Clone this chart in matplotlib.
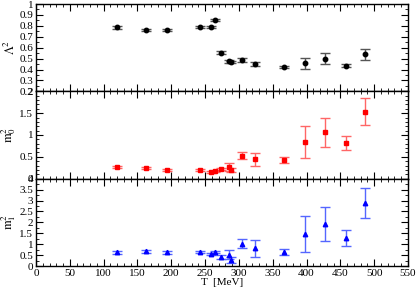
import matplotlib
matplotlib.use("Agg")
import matplotlib.pyplot as plt
from matplotlib.ticker import MultipleLocator

# temperatures (MeV)
T = [120, 162, 194, 243, 259, 265, 274, 285, 289, 305, 324, 366, 397, 428, 458, 487]

# Lambda^2
lam2 = [0.785, 0.765, 0.76, 0.79, 0.79, 0.855, 0.555, 0.475, 0.468, 0.488, 0.448, 0.425,
        0.455, 0.50, 0.435, 0.54]
lam2_err = [0.01, 0.01, 0.01, 0.01, 0.01, 0.012, 0.01, 0.012, 0.01, 0.015, 0.02, 0.01,
            0.05, 0.05, 0.015, 0.05]

# m0^2
m0 = [0.27, 0.24, 0.20, 0.195, 0.155, 0.165, 0.22, 0.27, 0.195, 0.53, 0.44, 0.42,
      0.84, 1.06, 0.82, 1.53]
m0_err = [0.03, 0.02, 0.02, 0.02, 0.015, 0.015, 0.03, 0.1, 0.05, 0.09, 0.145, 0.07,
          0.37, 0.33, 0.165, 0.31]

# m1^2
m1 = [0.62, 0.67, 0.62, 0.63, 0.55, 0.65, 0.42, 0.52, 0.28, 1.03, 0.81, 0.63,
      1.45, 1.91, 1.27, 2.9]
m1_err = [0.08, 0.07, 0.05, 0.05, 0.05, 0.05, 0.1, 0.2, 0.12, 0.2, 0.4, 0.14,
          0.82, 0.77, 0.37, 0.68]

plt.rcParams['font.family'] = ['Liberation Serif', 'DejaVu Serif']
plt.rcParams['mathtext.fontset'] = 'stix'

fig = plt.figure(figsize=(4.16, 2.89), dpi=100)
left, right = 36 / 416, 408 / 416
bottom, top = 1 - 266 / 289, 1 - 4 / 289
h = (top - bottom) / 3

ax1 = fig.add_axes([left, bottom + 2 * h, right - left, h])
ax2 = fig.add_axes([left, bottom + h, right - left, h])
ax3 = fig.add_axes([left, bottom, right - left, h])

panels = [
    (ax1, lam2, lam2_err, 'o', 'black', '#555555', (0.2, 1.0), 0.1, 0.05, r'$\Lambda^2$'),
    (ax2, m0, m0_err, 's', 'red', '#ff6666', (0, 2), 0.5, 0.1, r'$\mathrm{m}_0^2$'),
    (ax3, m1, m1_err, '^', 'blue', '#5566ff', (0, 4), 0.5, 0.25, r'$\mathrm{m}_1^2$'),
]

for ax, y, yerr, mk, c, ec, ylim, maj, mnr, lab in panels:
    ax.errorbar(T, y, yerr=yerr, fmt=mk, color=c, ecolor=ec, ms=3.2,
                elinewidth=1, capsize=3.5, capthick=1)
    ax.set_xlim(0, 550)
    ax.set_ylim(*ylim)
    ax.xaxis.set_major_locator(MultipleLocator(50))
    ax.xaxis.set_minor_locator(MultipleLocator(10))
    ax.yaxis.set_major_locator(MultipleLocator(maj))
    ax.yaxis.set_minor_locator(MultipleLocator(mnr))
    ax.tick_params(which='both', direction='in', top=True, right=True, labelsize=8, pad=2)
    ax.tick_params(which='major', length=5)
    ax.tick_params(which='minor', length=2.5)
    ax.set_ylabel(lab, fontsize=9, labelpad=1)
    ax.yaxis.set_label_coords(-0.048, 0.5)
    for s in ax.spines.values():
        s.set_linewidth(1)
    ax.yaxis.set_major_formatter(matplotlib.ticker.FuncFormatter(lambda v, p: f'{v:g}'))

ax1.tick_params(labelbottom=False)
ax2.tick_params(labelbottom=False)
ax3.set_xlabel('T  [MeV]', fontsize=8, labelpad=0)

fig.savefig('out.png', dpi=100)
